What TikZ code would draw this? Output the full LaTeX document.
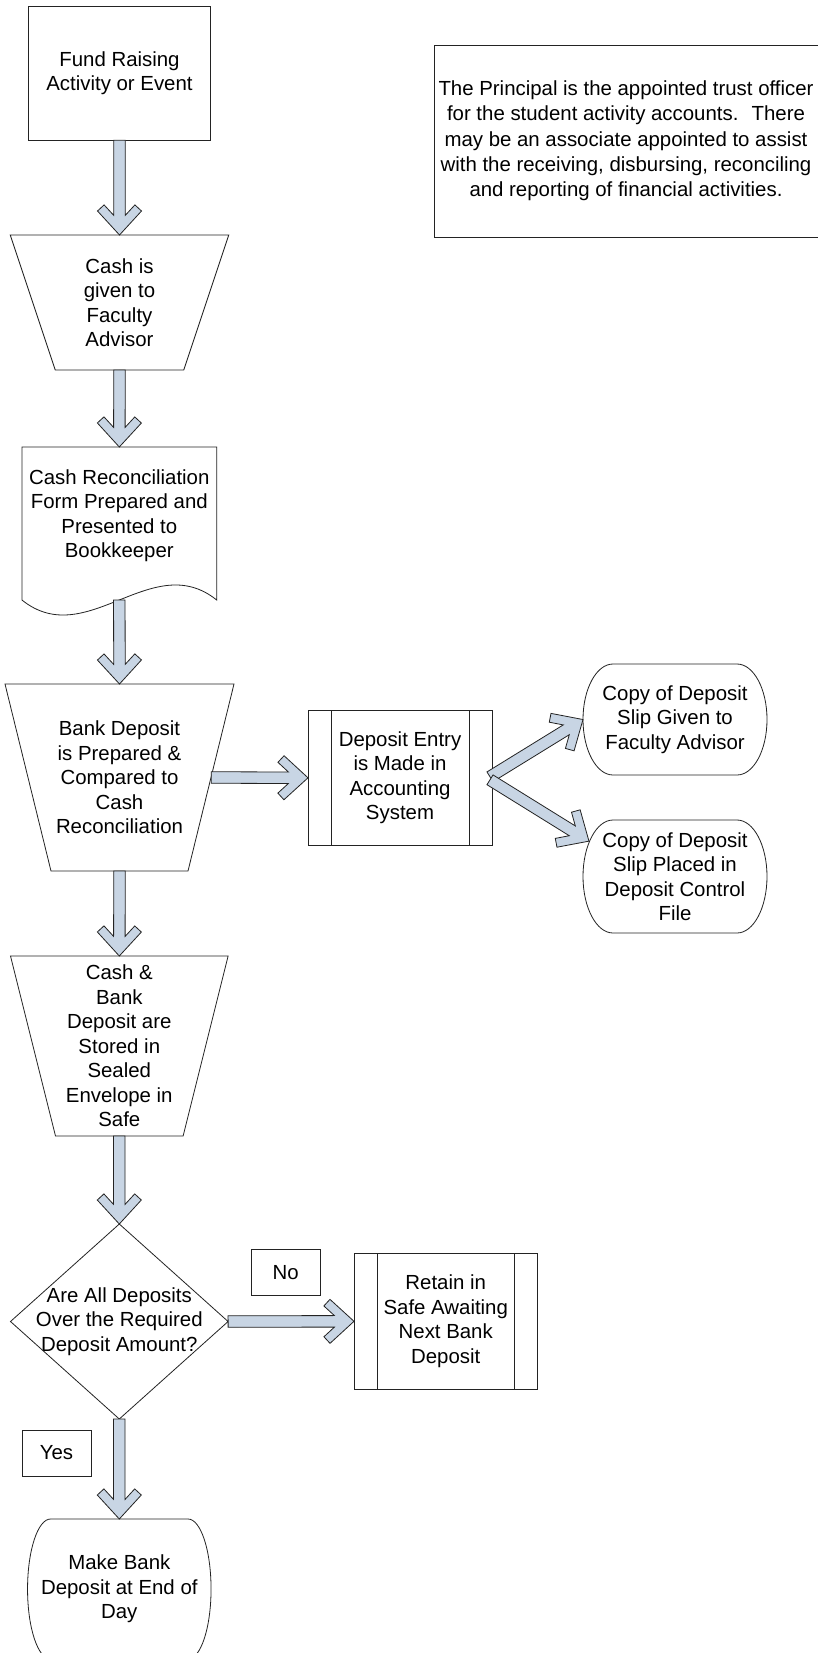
\documentclass[tikz,border=0pt]{standalone}
\usepackage{fontspec}
\setmainfont{Liberation Sans}
\usetikzlibrary{calc}
\definecolor{arrowfill}{RGB}{200,213,228}
\definecolor{edge}{RGB}{35,35,35}
\newcommand\txt{\fontsize{20.4}{24.5}\selectfont}
\newcommand\notetxt{\fontsize{20.4}{25.3}\selectfont}
\tikzset{
  barrow/.style={fill=arrowfill, draw=edge, line width=0.8pt, line join=miter},
  shapeline/.style={draw=edge, line width=0.8pt},
  txtnode/.style={inner sep=0pt, outer sep=0pt, align=center, font=\txt},
  boxnode/.style={draw=edge, line width=0.8pt, inner sep=0pt, outer sep=0pt, align=center, font=\txt},
}
\newcommand\blockarrow[2]{%
  \filldraw[barrow] let \p1=(#1), \p2=(#2),
    \n1={atan2(\y2-\y1,\x2-\x1)}, \n2={veclen(\x2-\x1,\y2-\y1)} in
    [shift={(\p1)}, rotate=\n1]
    (0pt,5.75pt) -- ({\n2-19.6pt},5.75pt) -- ({\n2-30.1pt},15.4pt) -- ({\n2-24pt},22pt)
    -- ({\n2*1pt},0pt) -- ({\n2-24pt},-22pt) -- ({\n2-30.1pt},-15.4pt)
    -- ({\n2-19.6pt},-5.75pt) -- (0pt,-5.75pt) -- cycle;}
\newcommand\termshape[3]{%
  \draw[shapeline] ($(#1.north west)+(#2,0)$) -- ($(#1.north east)+(-#2,0)$)
    arc[start angle=90,end angle=-90,x radius=#2pt,y radius=#3pt]
    -- ($(#1.south west)+(#2,0)$)
    arc[start angle=270,end angle=90,x radius=#2pt,y radius=#3pt] -- cycle;}
\newcommand\trapshape[2]{%
  \draw[shapeline] (#1.north west) -- (#1.north east) -- ($(#1.south east)+(-#2,0)$)
    -- ($(#1.south west)+(#2,0)$) -- cycle;}
\newcommand\procshape[1]{%
  \draw[shapeline] ($(#1.north west)+(23,0)$) -- ($(#1.south west)+(23,0)$);
  \draw[shapeline] ($(#1.north east)+(-23,0)$) -- ($(#1.south east)+(-23,0)$);}
\begin{document}
\begin{tikzpicture}[x=1pt,y=-1pt]
\useasboundingbox (0,0) rectangle (817,1653);
\fill[white] (0,0) rectangle (817,1653);

% nodes
\node[boxnode, minimum width=182.5, minimum height=134] (fund) at (119.5,73.25) {Fund Raising\\Activity or Event};
\node[boxnode, font=\notetxt, minimum width=384, minimum height=192] (note) at (626,141)
  {The Principal is the appointed trust officer\\for the student activity accounts.~ There\\may be an associate appointed to assist\\with the receiving, disbursing, reconciling\\and reporting of financial activities.};
\node[txtnode, minimum width=218.5, minimum height=135] (t1) at (119.5,302.5) {Cash is\\given to\\Faculty\\Advisor};
\node[txtnode] (doc) at (119.3,515.5) {Cash Reconciliation\\Form Prepared and\\Presented to\\Bookkeeper};
\node[txtnode, minimum width=229, minimum height=187] (t2) at (119.5,777.5) {Bank Deposit\\is Prepared \&\\Compared to\\Cash\\Reconciliation};
\node[boxnode, minimum width=184, minimum height=135.5] (proc) at (400,777.8) {Deposit Entry\\is Made in\\Accounting\\System};
\node[txtnode, minimum width=184, minimum height=111] (oval1) at (675,719.5) {Copy of Deposit\\Slip Given to\\Faculty Advisor};
\node[txtnode, minimum width=184, minimum height=113] (oval2) at (675,876.5) {Copy of Deposit\\Slip Placed in\\Deposit Control\\File};
\node[txtnode, minimum width=217.6, minimum height=180] (t3) at (119.3,1046) {Cash \&\\Bank\\Deposit are\\Stored in\\Sealed\\Envelope in\\Safe};
\node[txtnode, minimum width=217.6, minimum height=195] (dia) at (119.3,1321.5) {Are All Deposits\\Over the Required\\Deposit Amount?};
\node[boxnode, minimum width=183.5, minimum height=135.4] (retain) at (445.75,1321.3) {Retain in\\Safe Awaiting\\Next Bank\\Deposit};
\node[boxnode, minimum width=68.5, minimum height=45.5] (no) at (285.75,1272.25) {No};
\node[boxnode, minimum width=69, minimum height=46] (yes) at (56.5,1453) {Yes};
\node[txtnode, minimum width=183.5, minimum height=140] (term) at (119.3,1589) {Make Bank\\Deposit at End of\\Day};

% outlines
\trapshape{t1}{45}
\draw[shapeline] ($(doc.center)+(-97.4,84.5)$) -- ($(doc.center)+(-97.4,-68.5)$)
  -- ($(doc.center)+(97.4,-68.5)$) -- ($(doc.center)+(97.4,84.5)$)
  .. controls ($(doc.center)+(32.5,32.5)$) and ($(doc.center)+(-32.5,136.5)$) .. ($(doc.center)+(-97.4,84.5)$) -- cycle;
\trapshape{t2}{46}
\procshape{proc}
\termshape{oval1}{30}{55.5}
\termshape{oval2}{30}{56.5}
\trapshape{t3}{45}
\draw[shapeline] (dia.north) -- (dia.east) -- (dia.south) -- (dia.west) -- cycle;
\procshape{retain}
\termshape{term}{23}{70}

% connectors
\blockarrow{fund.south}{t1.north}
\blockarrow{t1.south}{$(doc.center)+(0,-68.5)$}
\blockarrow{$(doc.center)+(0,84.5)$}{t2.north}
\blockarrow{t2.south}{t3.north}
\blockarrow{t3.south}{dia.north}
\blockarrow{dia.south}{term.north}
\blockarrow{$(t2.east)+(-22.75,0)$}{proc.west}
\blockarrow{$(proc.east)+(-2,-1)$}{oval1.west}
\blockarrow{$(proc.east)+(-2,2)$}{$(oval2.159)+(6,0)$}
\blockarrow{dia.east}{retain.west}
\end{tikzpicture}
\end{document}
